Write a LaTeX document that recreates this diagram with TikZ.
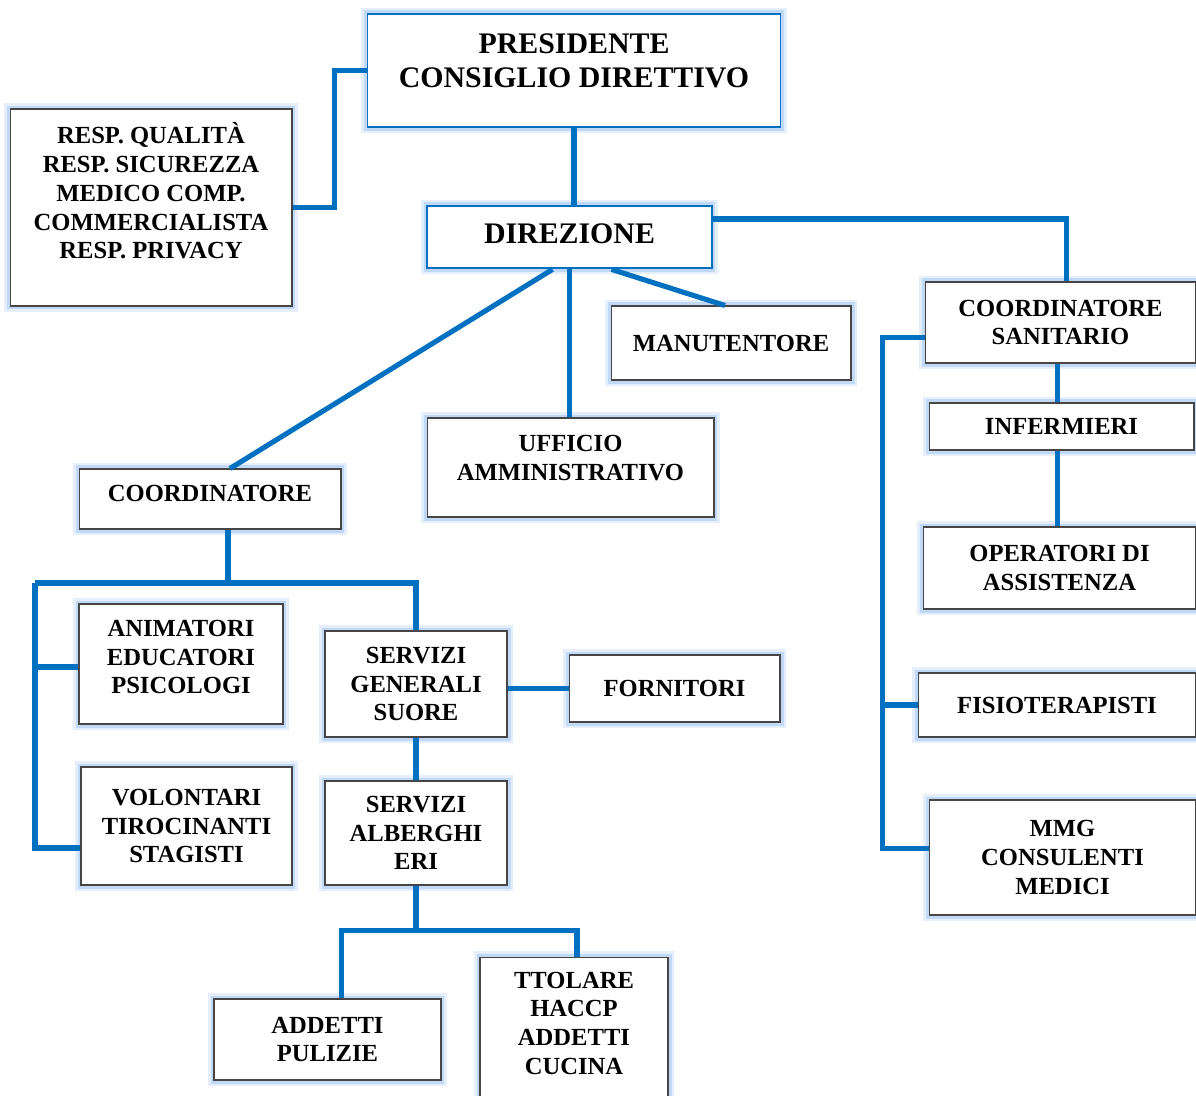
\documentclass[tikz,border=0pt]{standalone}
\usepackage{fontspec}
\setmainfont{Liberation Serif}
\usetikzlibrary{calc}

\definecolor{linkblue}{RGB}{0,112,192}
\definecolor{glowblue}{RGB}{150,190,240}
\definecolor{boxgray}{RGB}{70,70,70}

\tikzset{
  box/.style={draw=boxgray, line width=0.6pt, fill=white, align=center,
    font=\bfseries\fontsize{14}{16.4}\selectfont, inner sep=2pt,
    preaction={draw=glowblue, line width=7pt, opacity=0.25},
    preaction={draw=glowblue, line width=4pt, opacity=0.45}},
  bigbox/.style={box, draw=linkblue, font=\bfseries\fontsize{17}{19.3}\selectfont},
  link/.style={draw=linkblue, line width=2.9pt}
}

\begin{document}
\begin{tikzpicture}[x=0.02cm, y=-0.02cm]
  \useasboundingbox (0,0) rectangle (1196,1095);

  % top of the chart
  \node[bigbox, minimum width=8.28cm, minimum height=2.26cm, text depth=11pt] (pres) at (574,70.5) {PRESIDENTE\\CONSIGLIO DIRETTIVO};
  \node[box, minimum width=5.64cm, minimum height=3.94cm, text depth=19pt] (resp) at (151,207.5) {RESP. QUALITÀ\\RESP. SICUREZZA\\MEDICO COMP.\\COMMERCIALISTA\\RESP. PRIVACY};
  \node[bigbox, line width=1.6pt, minimum width=5.7cm, minimum height=1.24cm, text depth=4pt] (dir) at (569.5,237) {DIREZIONE};
  \node[box, minimum width=4.8cm, minimum height=1.48cm] (man) at (731,343) {MANUTENTORE};
  \node[box, minimum width=5.74cm, minimum height=1.98cm, text depth=11pt] (uff) at (570.5,467.5) {UFFICIO\\AMMINISTRATIVO};
  \node[box, minimum width=5.24cm, minimum height=1.2cm, text depth=6pt] (coord) at (210,499) {COORDINATORE};

  % area sanitaria
  \node[box, minimum width=5.42cm, minimum height=1.62cm] (cs) at (1060.5,322.5) {COORDINATORE\\SANITARIO};
  \node[box, minimum width=5.3cm, minimum height=0.94cm] (inf) at (1061.5,426.5) {INFERMIERI};
  \node[box, minimum width=5.46cm, minimum height=1.64cm] (oper) at (1059.5,568) {OPERATORI DI\\ASSISTENZA};
  \node[box, minimum width=5.56cm, minimum height=1.28cm] (fisio) at (1057,705) {FISIOTERAPISTI};
  \node[box, minimum width=5.34cm, minimum height=2.3cm] (mmg) at (1062.5,857.5) {MMG\\CONSULENTI\\MEDICI};

  % area coordinatore
  \node[box, minimum width=4.08cm, minimum height=2.4cm, text depth=8pt] (anim) at (181,664) {ANIMATORI\\EDUCATORI\\PSICOLOGI};
  \node[box, minimum width=4.22cm, minimum height=2.36cm] (vol) at (186.5,826) {VOLONTARI\\TIROCINANTI\\STAGISTI};
  \node[box, minimum width=3.64cm, minimum height=2.12cm] (sg) at (416,684) {SERVIZI\\GENERALI\\SUORE};
  \node[box, minimum width=4.22cm, minimum height=1.34cm] (forn) at (674.5,688.5) {FORNITORI};
  \node[box, minimum width=3.64cm, minimum height=2.08cm] (sa) at (416,833) {SERVIZI\\ALBERGHI\\ERI};
  \node[box, minimum width=4.54cm, minimum height=1.62cm] (add) at (327.5,1039.5) {ADDETTI\\PULIZIE};
  \node[box, minimum width=3.76cm, minimum height=2.86cm, text depth=6pt] (tit) at (574,1028.5) {TTOLARE\\HACCP\\ADDETTI\\CUCINA};

  % connectors
  \draw[link] (pres.south) -- (pres.south |- dir.north);
  \draw[link] (pres.west) -- ++(-32,0) |- (resp.east);
  \draw[link] (dir.north east |- 0,219) -| ($(cs.north)+(6,0)$);
  \draw[link] ($(dir.south)+(-17,0)$) -- ($(coord.north)+(20,0)$);
  \draw[link] (dir.south) -- (dir.south |- uff.north);
  \draw[link] ($(dir.south)+(42,0)$) -- ($(man.north)+(-6,0)$);

  \coordinate (sanbus) at ($(cs.west)+(-42,15)$);
  \draw[link] ($(cs.west)+(0,15)$) -- (sanbus) |- ($(mmg.west)+(0,-9)$);
  \draw[link] (sanbus |- fisio.west) -- (fisio.west);
  \draw[link] ($(cs.south)+(-3,0)$) -- ($(cs.south |- inf.north)+(-3,0)$);
  \draw[link] ($(inf.south)+(-4,0)$) -- ($(inf.south |- oper.north)+(-4,0)$);

  \coordinate (leftbus) at (35,583);
  \draw[link] ($(coord.south)+(18,0)$) -- ($(coord.south)+(18,54)$);
  \draw[link] (leftbus) -- (sg.north |- leftbus) -- (sg.north);
  \draw[link] (leftbus) |- ($(vol.west)+(0,22)$);
  \draw[link] (leftbus |- 0,667) -- (anim.west |- 0,667);
  \draw[link] (sg.east |- forn.west) -- (forn.west);
  \draw[link] (sg.south) -- (sa.north);

  \coordinate (servbus) at ($(sa.south)+(0,45)$);
  \draw[link] (sa.south) -- (servbus);
  \draw[link] ($(add.north)+(14,0)$) |- (servbus) -| ($(tit.north)+(3,0)$);
\end{tikzpicture}
\end{document}
